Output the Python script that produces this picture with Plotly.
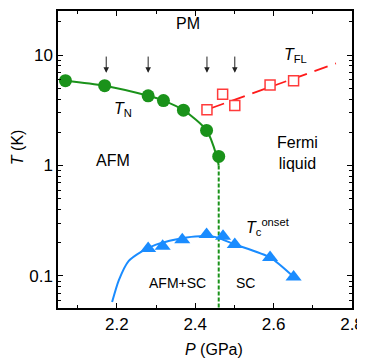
import numpy as np
import plotly.graph_objects as go

# T_N (AFM transition), green circles
tn_p = [2.069, 2.169, 2.280, 2.319, 2.370, 2.429, 2.460]
tn_T = [5.86, 5.28, 4.28, 3.87, 3.17, 2.08, 1.21]
# smooth guide line through T_N, ends at the critical pressure
tn_line_p = [2.069, 2.169, 2.280, 2.319, 2.370, 2.429, 2.455, 2.460]
tn_line_T = [5.86, 5.28, 4.28, 3.87, 3.17, 2.08, 1.21, 1.0]

# T_FL (Fermi liquid), open red squares + dashed fit
fl_p = [2.430, 2.470, 2.501, 2.591, 2.651]
fl_T = [3.20, 4.42, 3.49, 5.37, 5.86]
fl_fit_p = [2.440, 2.759]
fl_fit_T = [3.30, 8.40]

# Tc onset, blue triangles + guide curve
tc_p = [2.280, 2.317, 2.367, 2.429, 2.471, 2.501, 2.591, 2.651]
tc_T = [0.177, 0.186, 0.213, 0.238, 0.229, 0.193, 0.147, 0.098]
tc_line_p = [2.188, 2.205, 2.230, 2.263, 2.300, 2.350, 2.400, 2.450, 2.501, 2.591, 2.651]
tc_line_T = [0.058, 0.091, 0.136, 0.166, 0.192, 0.214, 0.228, 0.226, 0.193, 0.147, 0.098]

# critical pressure
pc = 2.46
pc_T = [1.0, 0.04]

# arrow positions
arrow_p = [2.173, 2.280, 2.430, 2.501]

GREEN = "#1a921a"
RED = "#ff3b3b"
BLUE = "#1a8cff"
FONT = "Liberation Sans, Arial, sans-serif"

fig = go.Figure()

fig.add_trace(go.Scatter(x=tn_line_p, y=tn_line_T, mode="lines",
                         line=dict(color=GREEN, width=2, shape="spline", smoothing=0.8)))
fig.add_trace(go.Scatter(x=[pc, pc], y=pc_T, mode="lines",
                         line=dict(color=GREEN, width=2, dash="4px,2px")))
fig.add_trace(go.Scatter(x=tn_p, y=tn_T, mode="markers",
                         marker=dict(color=GREEN, size=13, symbol="circle")))

fig.add_trace(go.Scatter(x=fl_fit_p, y=fl_fit_T, mode="lines",
                         line=dict(color="#ff1a1a", width=1.8, dash="14px,8px")))
fig.add_trace(go.Scatter(x=fl_p, y=fl_T, mode="markers",
                         marker=dict(color="white", size=10, symbol="square",
                                     line=dict(color=RED, width=1.5))))

fig.add_trace(go.Scatter(x=tc_line_p, y=tc_line_T, mode="lines",
                         line=dict(color=BLUE, width=2, shape="spline", smoothing=0.6)))
fig.add_trace(go.Scatter(x=tc_p, y=tc_T, mode="markers",
                         marker=dict(color=BLUE, size=14, symbol="triangle-up")))

# arrows (empty text, tiny font so the shaft starts right at T = 10)
for p in arrow_p:
    fig.add_annotation(x=p, y=np.log10(6.9), ax=p, ay=np.log10(10.0),
                       axref="x", ayref="y", xref="x", yref="y",
                       showarrow=True, arrowhead=2, arrowsize=1.1, arrowwidth=1,
                       arrowcolor="#222222", text="", font=dict(size=1))

labels = [
    (2.382, 1.282, "PM", 16),
    (2.216, 0.510, "<i>T</i><sub>N</sub>", 16),
    (2.190, 0.048, "AFM", 16),
    (2.661, 0.111, "Fermi<br>liquid", 16),
    (2.657, 1.000, "<i>T</i><sub>FL</sub>", 16),
    (2.586, -0.560, "<i>T</i><sub>c</sub><sup>onset</sup>", 16),
    (2.355, -1.066, "AFM+SC", 14),
    (2.528, -1.066, "SC", 14),
]
for x, y, t, s in labels:
    fig.add_annotation(x=x, y=y, xref="x", yref="y", text=t, showarrow=False,
                       font=dict(size=s, color="black", family=FONT))

# axis titles
fig.add_annotation(x=0.53, y=-0.14, xref="paper", yref="paper", text="<i>P</i> (GPa)",
                   xanchor="center", yanchor="middle", showarrow=False,
                   font=dict(size=16, color="black", family=FONT))
fig.add_annotation(x=-0.139, y=0.542, xref="paper", yref="paper", text="<i>T</i> (K)",
                   xanchor="center", yanchor="middle", textangle=-90, showarrow=False,
                   font=dict(size=16, color="black", family=FONT))

axis_common = dict(showline=True, linecolor="black", linewidth=1.5, mirror="allticks",
                   ticks="inside", ticklen=5, tickwidth=1.2, tickcolor="black",
                   showgrid=False, zeroline=False, ticklabeloverflow="allow",
                   tickfont=dict(size=17, color="black", family=FONT))

fig.update_xaxes(range=[2.05, 2.8], tickvals=[2.2, 2.4, 2.6, 2.8],
                 ticktext=["2.2", "2.4", "2.6", "2.8"],
                 minor=dict(ticks="inside", ticklen=3, tickcolor="black",
                            tickvals=[2.1, 2.3, 2.5, 2.7]),
                 **axis_common)
fig.update_yaxes(type="log", range=[-1.29, 1.399],
                 tickvals=[0.1, 1, 10], ticktext=["0.1", "1", "10"],
                 minor=dict(ticks="inside", ticklen=3, tickcolor="black",
                            tickvals=[0.06, 0.07, 0.08, 0.09,
                                      0.2, 0.3, 0.4, 0.5, 0.6, 0.7, 0.8, 0.9,
                                      2, 3, 4, 5, 6, 7, 8, 9, 20]),
                 **axis_common)

# the page body adds an 8px margin, so the figure is 8px smaller than the window
fig.update_layout(width=357, height=351, showlegend=False,
                  margin=dict(l=50, r=11, t=1, b=51),
                  paper_bgcolor="white", plot_bgcolor="white",
                  font=dict(family=FONT, color="black"))

fig.write_html("out.html")
